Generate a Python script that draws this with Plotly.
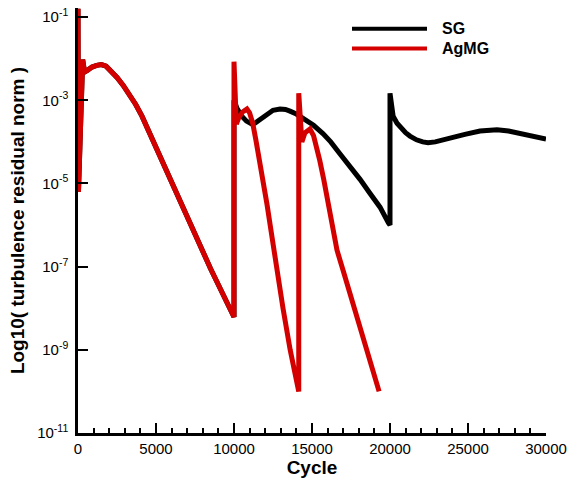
import plotly.graph_objects as go

# Convergence histories: cycle number and log10 of the turbulence residual norm
sg_cycle = [0, 30, 300, 420, 600, 900, 1200, 1500, 1800, 2100, 2500, 2900, 3300, 3700,
            4100, 4600, 5100, 5600, 5900, 7000, 8500, 10000,
            10000, 10200, 10500, 10800, 11100, 11350, 11700, 12100, 12500, 12950, 13300,
            13590, 14000, 14500, 15100, 15700, 16200, 16800, 17400, 18080, 18700, 19360,
            19900, 20000,
            20000, 20100, 20200, 20450, 20700, 21000, 21280, 21700, 22100, 22440, 22900,
            23400, 24040, 24800, 25770, 26300, 26860, 27600, 28330, 29200, 30000]
sg_log = [-0.8, -5.2, -2.02, -2.32, -2.28, -2.2, -2.16, -2.14, -2.18, -2.28, -2.45, -2.64,
          -2.86, -3.1, -3.38, -3.8, -4.24, -4.67, -4.93, -5.83, -7.05, -8.21,
          -3.0, -3.2, -3.38, -3.5, -3.56, -3.55, -3.45, -3.33, -3.24, -3.21, -3.22,
          -3.26, -3.33, -3.45, -3.6, -3.8, -4.0, -4.29, -4.57, -4.9, -5.23, -5.57,
          -5.95, -6.0,
          -2.83, -3.2, -3.38, -3.55, -3.67, -3.78, -3.86, -3.95, -4.0, -4.02, -4.0,
          -3.96, -3.9, -3.82, -3.74, -3.72, -3.71, -3.74, -3.79, -3.85, -3.93]

agmg_cycle = [0, 30, 300, 420, 600, 900, 1200, 1500, 1800, 2100, 2500, 2900, 3300, 3700,
              4100, 4600, 5100, 5600, 5900, 7000, 8500, 10000,
              10000, 10150, 10300, 10550, 10830, 11000, 11200, 11400, 11600, 11850, 12115,
              12400, 12630, 13140, 13600, 14150,
              14150, 14350, 14550, 14870, 15100, 15300, 15500, 15750, 16000, 16300, 16600,
              17000, 18080, 19300]
agmg_log = [-0.8, -5.2, -2.02, -2.32, -2.28, -2.2, -2.16, -2.14, -2.18, -2.28, -2.45, -2.64,
            -2.86, -3.1, -3.38, -3.8, -4.24, -4.67, -4.93, -5.83, -7.05, -8.21,
            -2.07, -3.57, -3.42, -3.28, -3.21, -3.3, -3.55, -3.95, -4.35, -4.9, -5.5,
            -6.2, -6.8, -8.0, -9.0, -10.0,
            -2.83, -4.0, -3.78, -3.69, -3.85, -4.1, -4.45, -4.9, -5.4, -6.0, -6.6,
            -7.1, -8.5, -10.0]

series_names = ["SG", "AgMG"]
series_colors = ["#000000", "#d40000"]
series_widths = [5, 5]

y_tick_exps = [-1, -3, -5, -7, -9, -11]
x_tick_vals = [0, 5000, 10000, 15000, 20000, 25000, 30000]

W, H = 578, 480
L, R, T, B = 78, 32, 6, 45
plot_w, plot_h = W - L - R, H - T - B

fig = go.Figure()
for name, cyc, lg, col, lw in zip(series_names, [sg_cycle, agmg_cycle], [sg_log, agmg_log],
                                  series_colors, series_widths):
    fig.add_trace(go.Scatter(
        x=cyc, y=[10 ** v for v in lg], mode="lines", name=name,
        line=dict(color=col, width=lw), showlegend=False,
    ))

font_main = "Liberation Sans, Arial, sans-serif"

fig.update_layout(
    width=W, height=H,
    margin=dict(l=L, r=R, t=T, b=B),
    paper_bgcolor="white", plot_bgcolor="white",
    font=dict(family=font_main, color="black", size=15),
)

fig.update_xaxes(
    range=[0, 30000], showgrid=False, zeroline=False,
    showline=True, linecolor="black", linewidth=3,
    ticks="inside", ticklen=10, tickwidth=2, tickcolor="black",
    tickvals=x_tick_vals, ticktext=[str(v) for v in x_tick_vals],
    tickfont=dict(size=15),
    minor=dict(dtick=1000, ticks="inside", ticklen=5, tickwidth=1.5, tickcolor="black"),
    title=dict(text="<b>Cycle</b>", font=dict(size=19), standoff=4),
)

fig.update_yaxes(
    type="log", range=[-11, -0.78], showgrid=False, zeroline=False,
    showline=True, linecolor="black", linewidth=2.5,
    ticks="inside", ticklen=10, tickwidth=2, tickcolor="black",
    tickvals=[10 ** e for e in y_tick_exps],
    ticktext=["10<sup>%d</sup>" % e for e in y_tick_exps],
    tickfont=dict(size=15), ticklabelstandoff=4,
    title=dict(text="<b>Log10( turbulence residual norm )</b>", font=dict(size=19), standoff=8),
)

# Legend: long line samples with bold labels in the upper right
def px_x(p):
    return (p - L) / plot_w

def px_y(p):
    return (H - B - p) / plot_h

legend_rows = [27, 47]
for name, col, yr in zip(series_names, series_colors, legend_rows):
    fig.add_shape(type="line", xref="paper", yref="paper",
                  x0=px_x(352), x1=px_x(427), y0=px_y(yr), y1=px_y(yr),
                  line=dict(color=col, width=4))
    fig.add_annotation(xref="paper", yref="paper", x=px_x(440), y=px_y(yr),
                       xanchor="left", yanchor="middle", showarrow=False,
                       text="<b>%s</b>" % name, font=dict(size=16, color="black"))

fig.write_html("out.html")
